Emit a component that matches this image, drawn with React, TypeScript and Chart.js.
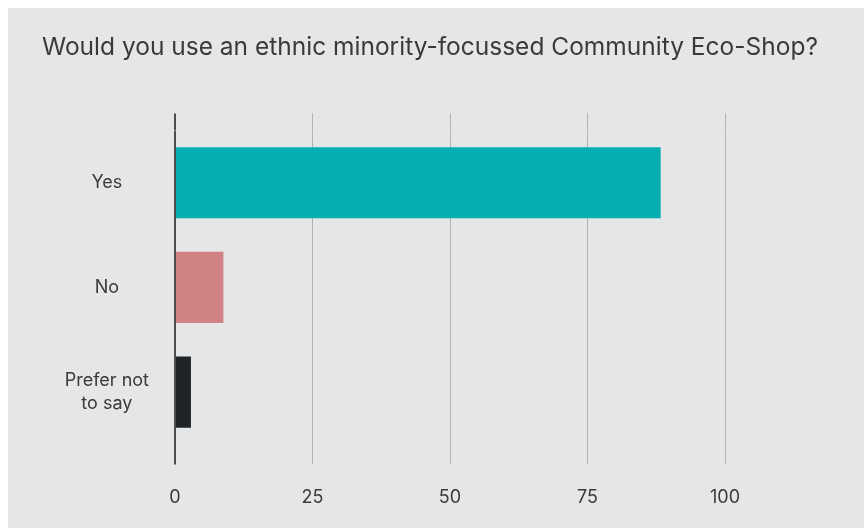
import React, { useEffect, useRef } from "react";
import { Chart, registerables } from "chart.js";

Chart.register(...registerables);

const categories: (string | string[])[] = ["Yes", "No", ["Prefer not", "to say"]];
const values: number[] = [88.3, 8.8, 2.9];
const barColors: string[] = ["#05aeb1", "#d18284", "#1f2326"];
const tickValues: number[] = [0, 25, 50, 75, 100];
const titleText = "Would you use an ethnic minority-focussed Community Eco-Shop?";

const FONT = "Inter, 'Open Sans', sans-serif";
const TEXT = "#3a3a3a";
const gridColor = (ctx: any) => (ctx.tick && ctx.tick.value === 0 ? "#4d4d4d" : "#b3b3b3");
const gridWidth = (ctx: any) => (ctx.tick && ctx.tick.value === 0 ? 2 : 1);

export default function App() {
  const ref = useRef<HTMLCanvasElement>(null);
  useEffect(() => {
    if (!ref.current) return;
    const chart = new Chart(ref.current, {
      type: "bar",
      data: {
        labels: categories as any,
        datasets: [
          {
            data: values,
            backgroundColor: barColors,
            borderWidth: 0,
            barPercentage: 0.85,
            categoryPercentage: 0.8,
          },
        ],
      },
      options: {
        indexAxis: "y",
        animation: false,
        responsive: false,
        layout: { padding: { left: 34, right: 29, top: 0, bottom: 20 } },
        plugins: {
          legend: { display: false },
          tooltip: { enabled: false },
          title: {
            display: true,
            align: "start",
            text: titleText,
            color: TEXT,
            font: { family: FONT, size: 24.5, weight: "normal" as any, lineHeight: 1.2 },
            padding: { top: 25, bottom: 51 },
          },
        },
        scales: {
          x: {
            type: "linear",
            position: "bottom",
            min: 0,
            max: 120,
            afterBuildTicks: (s: any) => {
              s.ticks = tickValues.map((v) => ({ value: v }));
            },
            afterFit: (s: any) => {
              s.height = 63.6;
            },
            ticks: {
              stepSize: 25,
              includeBounds: false,
              color: TEXT,
              padding: 22,
              font: { family: FONT, size: 18, lineHeight: 1.2 },
            },
            grid: {
              color: gridColor,
              lineWidth: gridWidth,
              drawTicks: true,
              tickLength: 20,
            },
            border: { display: false },
          },
          x2: {
            type: "linear",
            position: "top",
            min: 0,
            max: 120,
            afterBuildTicks: (s: any) => {
              s.ticks = tickValues.map((v) => ({ value: v }));
            },
            afterFit: (s: any) => {
              s.height = 17;
            },
            ticks: { display: false, stepSize: 25, includeBounds: false },
            grid: {
              color: gridColor,
              lineWidth: gridWidth,
              drawOnChartArea: false,
              drawTicks: true,
              tickLength: 17,
            },
            border: { display: false },
          },
          y: {
            type: "category",
            afterFit: (s: any) => {
              s.width = 133;
            },
            ticks: {
              color: TEXT,
              crossAlign: "center",
              padding: 26,
              font: { family: FONT, size: 18, lineHeight: 1.28 },
            },
            grid: { display: false, drawTicks: false },
            border: { display: false },
          },
        },
      } as any,
    });
    return () => chart.destroy();
  }, []);
  return (
    <div
      style={{
        position: "fixed",
        left: 8,
        top: 8,
        width: 856,
        height: 520,
        background: "#e5e6e8",
      }}
    >
      <canvas ref={ref} width={856} height={520} style={{ display: "block" }} />
    </div>
  );
}
